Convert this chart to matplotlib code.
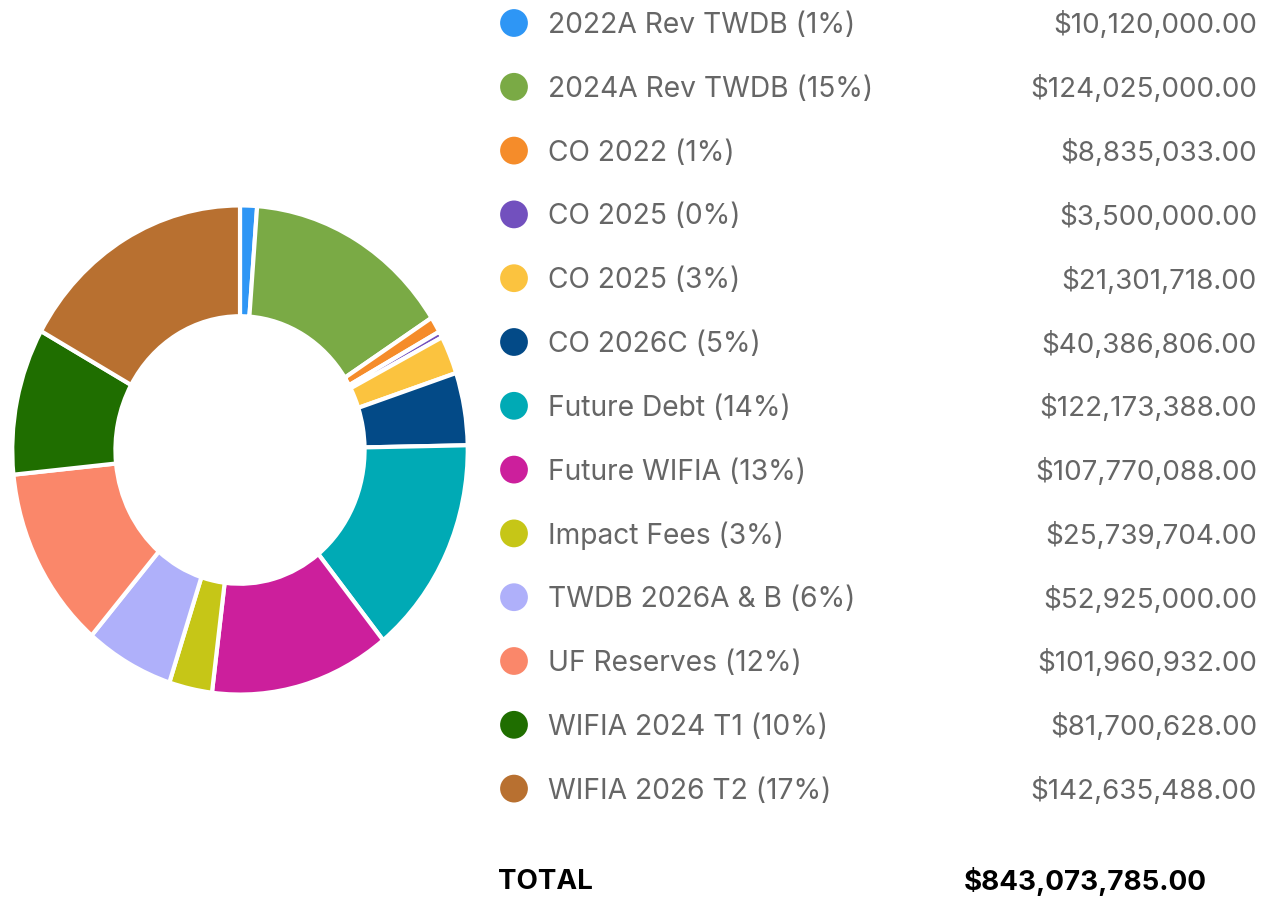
import matplotlib
matplotlib.use("Agg")
import matplotlib.pyplot as plt
import numpy as np

labels = ["2022A Rev TWDB", "2024A Rev TWDB", "CO 2022", "CO 2025", "CO 2025",
          "CO 2026C", "Future Debt", "Future WIFIA", "Impact Fees",
          "TWDB 2026A & B", "UF Reserves", "WIFIA 2024 T1", "WIFIA 2026 T2"]
pct_labels = ["1%", "15%", "1%", "0%", "3%", "5%", "14%", "13%", "3%", "6%", "12%", "10%", "17%"]
values = [10120000.00, 124025000.00, 8835033.00, 3500000.00, 21301718.00,
          40386806.00, 122173388.00, 107770088.00, 25739704.00, 52925000.00,
          101960932.00, 81700628.00, 142635488.00]
colors = ["#2E96F5", "#7AAA45", "#F58C2A", "#7250BE", "#FBC33F", "#034A87",
          "#00AAB5", "#CC1F9C", "#C6C617", "#AFB0FA", "#FA876A", "#1F6E00", "#B87030"]

W, H = 1273, 901
fig = plt.figure(figsize=(W / 100, H / 100), dpi=100)
FONT = ["Inter", "DejaVu Sans"]

# donut axes (slightly elliptical like reference)
cx, cy, rx, ry = 240, 450, 230, 247
ax = fig.add_axes([(cx - rx) / W, (H - cy - ry) / H, 2 * rx / W, 2 * ry / H])
ax.pie(values, colors=colors, startangle=90, counterclock=False, radius=1.0,
       wedgeprops=dict(width=0.453, edgecolor="white", linewidth=3, joinstyle="round"))
ax.set_aspect("auto")
ax.set_xlim(-1.01, 1.01)
ax.set_ylim(-1.01, 1.01)
ax.axis("off")

# legend overlay
lax = fig.add_axes([0, 0, 1, 1])
lax.set_xlim(0, W)
lax.set_ylim(H, 0)
lax.axis("off")
lax.patch.set_alpha(0)

y0, dy = 23, 63.8
ys = [y0 + i * dy for i in range(len(labels))]
lax.scatter([514] * len(labels), ys, s=400, c=colors, edgecolors="none")
for i, (lab, p, v) in enumerate(zip(labels, pct_labels, values)):
    lax.text(548, ys[i] + 2.5, f"{lab} ({p})", fontsize=20.3, color="#666666",
             va="center", ha="left", family=FONT)
    lax.text(1257, ys[i] + 2.5, f"${v:,.2f}", fontsize=20, color="#666666",
             va="center", ha="right", family=FONT)

total = sum(values)
lax.text(498, 882, "TOTAL", fontsize=20, color="#000000", fontweight="bold",
         va="center", ha="left", family=FONT)
lax.text(1207, 882, f"${total:,.2f}", fontsize=20, color="#000000", fontweight="bold",
         va="center", ha="right", family=FONT)

fig.savefig("out.png", dpi=100, facecolor="white")
